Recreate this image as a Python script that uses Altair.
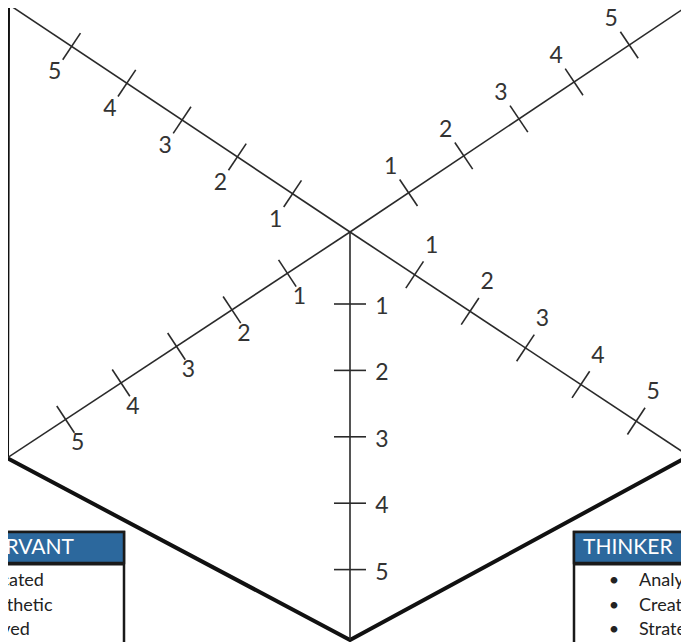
import math
import altair as alt
import pandas as pd

# ---------------- data ----------------
CENTER_X, CENTER_Y = 350, 232
AXIS_NAMES = ["upper_left", "upper_right", "lower_left", "lower_right", "bottom"]
AXIS_END_X = [8, 689, 7, 689, 350]
AXIS_END_Y = [4, 5, 458, 456, 640]
TICK_FIRST = [69, 70.5, 75, 77.5, 72]   # distance of tick "1" from the centre
TICK_STEP = 66.4                         # distance between ticks
LABEL_DX = [-17, -18, 12, 17, 32]
LABEL_DY = [26, -26, 24, -29, 3]
TICK_VALUES = [1, 2, 3, 4, 5]
TICK_HALF = 16

FRAME_X = [8, 692, 692, 689, 350, 7, 8]
FRAME_Y = [4, 4, 456, 456, 640, 458, 4]

BOX_NAMES = ["SERVANT", "THINKER"]
BOX_X1 = [-103, 574]
BOX_X2 = [124, 801]
BOX_TOP = 532
HEADER_BOTTOM = 563
BOX_BOTTOM = 720
HEADER_TEXT_X = [74, 583]
HEADER_ALIGN = ["right", "left"]
BULLET_X = [-64, 614]
ITEM_X = [-37, 639]
ITEM_Y = [581, 606, 630]
SERVANT_ITEMS = ["Dedicated", "Empathetic", "Involved"]
THINKER_ITEMS = ["Analysis", "Creative", "Strategic"]

LINE_COLOR = "#2a2a2a"
TEXT_COLOR = "#333333"
HEADER_BLUE = "#2c689d"
FONT = "Lato"

# plot area, placed at page offset (8, 8)
PAGE_W, PAGE_H = 673, 634

# ---------------- build tables ----------------
axes_rows, tick_rows, label_rows = [], [], []
for i, name in enumerate(AXIS_NAMES):
    ex, ey = AXIS_END_X[i] - CENTER_X, AXIS_END_Y[i] - CENTER_Y
    L = math.hypot(ex, ey)
    ux, uy = ex / L, ey / L
    px, py = -uy, ux
    axes_rows.append(dict(x=CENTER_X, y=CENTER_Y, x2=AXIS_END_X[i], y2=AXIS_END_Y[i]))
    for v in TICK_VALUES:
        d = TICK_FIRST[i] + TICK_STEP * (v - 1)
        tx, ty = CENTER_X + ux * d, CENTER_Y + uy * d
        tick_rows.append(dict(x=tx - px * TICK_HALF, y=ty - py * TICK_HALF,
                              x2=tx + px * TICK_HALF, y2=ty + py * TICK_HALF))
        label_rows.append(dict(x=tx + LABEL_DX[i], y=ty + LABEL_DY[i], t=str(v)))

axes_df = pd.DataFrame(axes_rows)
ticks_df = pd.DataFrame(tick_rows)
labels_df = pd.DataFrame(label_rows)
frame_df = pd.DataFrame(dict(x=FRAME_X, y=FRAME_Y, o=list(range(len(FRAME_X)))))

box_df = pd.DataFrame(dict(x=BOX_X1, x2=BOX_X2, y=[BOX_TOP] * 2, y2=[BOX_BOTTOM] * 2))
head_df = pd.DataFrame(dict(x=BOX_X1, x2=BOX_X2, y=[BOX_TOP] * 2, y2=[HEADER_BOTTOM] * 2))
head_line_df = pd.DataFrame(dict(x=BOX_X1, x2=BOX_X2, y=[HEADER_BOTTOM + 1] * 2))
head_text_df = pd.DataFrame(dict(x=HEADER_TEXT_X, y=[548] * 2, t=BOX_NAMES, a=HEADER_ALIGN))

bullet_rows, item_rows = [], []
for bi, items in enumerate([SERVANT_ITEMS, THINKER_ITEMS]):
    for k, it in enumerate(items):
        bullet_rows.append(dict(x=BULLET_X[bi], y=ITEM_Y[k], t="\u2022"))
        item_rows.append(dict(x=ITEM_X[bi], y=ITEM_Y[k], t=it))
bullet_df = pd.DataFrame(bullet_rows)
item_df = pd.DataFrame(item_rows)

# ---------------- scales ----------------
XS = alt.Scale(domain=[8, 8 + PAGE_W], range=[0, PAGE_W], nice=False, zero=False)
YS = alt.Scale(domain=[8, 8 + PAGE_H], range=[0, PAGE_H], nice=False, zero=False)
X = alt.X("x:Q", scale=XS, axis=None)
Y = alt.Y("y:Q", scale=YS, axis=None)

frame = alt.Chart(frame_df).mark_line(
    color="#111111", strokeWidth=4, strokeJoin="miter", clip=True
).encode(x=X, y=Y, order="o:Q")

axes = alt.Chart(axes_df).mark_rule(color=LINE_COLOR, strokeWidth=1.6, clip=True).encode(
    x=X, y=Y, x2="x2:Q", y2="y2:Q")

ticks = alt.Chart(ticks_df).mark_rule(color=LINE_COLOR, strokeWidth=1.6, clip=True).encode(
    x=X, y=Y, x2="x2:Q", y2="y2:Q")

labels = alt.Chart(labels_df).mark_text(
    font=FONT, fontSize=23, color=TEXT_COLOR, align="center", baseline="middle", clip=True
).encode(x=X, y=Y, text="t:N")

boxes = alt.Chart(box_df).mark_rect(
    fill="white", stroke="#1a1a1a", strokeWidth=2.5, clip=True
).encode(x=X, y=Y, x2="x2:Q", y2="y2:Q")

heads = alt.Chart(head_df).mark_rect(
    fill=HEADER_BLUE, stroke="#1a1a1a", strokeWidth=2.5, clip=True
).encode(x=X, y=Y, x2="x2:Q", y2="y2:Q")

head_lines = alt.Chart(head_line_df).mark_rule(
    color="#1a1a1a", strokeWidth=3, clip=True
).encode(x=X, y=Y, x2="x2:Q")

head_text_r = alt.Chart(head_text_df[head_text_df.a == "right"]).mark_text(
    font=FONT, fontSize=21, color="white", align="right", baseline="middle", clip=True
).encode(x=X, y=Y, text="t:N")
head_text_l = alt.Chart(head_text_df[head_text_df.a == "left"]).mark_text(
    font=FONT, fontSize=21, color="white", align="left", baseline="middle", clip=True
).encode(x=X, y=Y, text="t:N")

bullets = alt.Chart(bullet_df).mark_text(
    font=FONT, fontSize=18, color="#222222", align="center", baseline="middle", clip=True
).encode(x=X, y=Y, text="t:N")

items = alt.Chart(item_df).mark_text(
    font=FONT, fontSize=18, color="#222222", align="left", baseline="middle", clip=True
).encode(x=X, y=Y, text="t:N")

chart = alt.layer(
    frame, axes, ticks, labels, boxes, heads, head_lines,
    head_text_r, head_text_l, bullets, items
).properties(
    width=PAGE_W, height=PAGE_H,
    autosize=alt.AutoSizeParams(type="none"),
    padding=0,
    background="white",
).configure_view(stroke=None)

chart.save("out.html", embed_options={"renderer": "svg", "actions": False})
